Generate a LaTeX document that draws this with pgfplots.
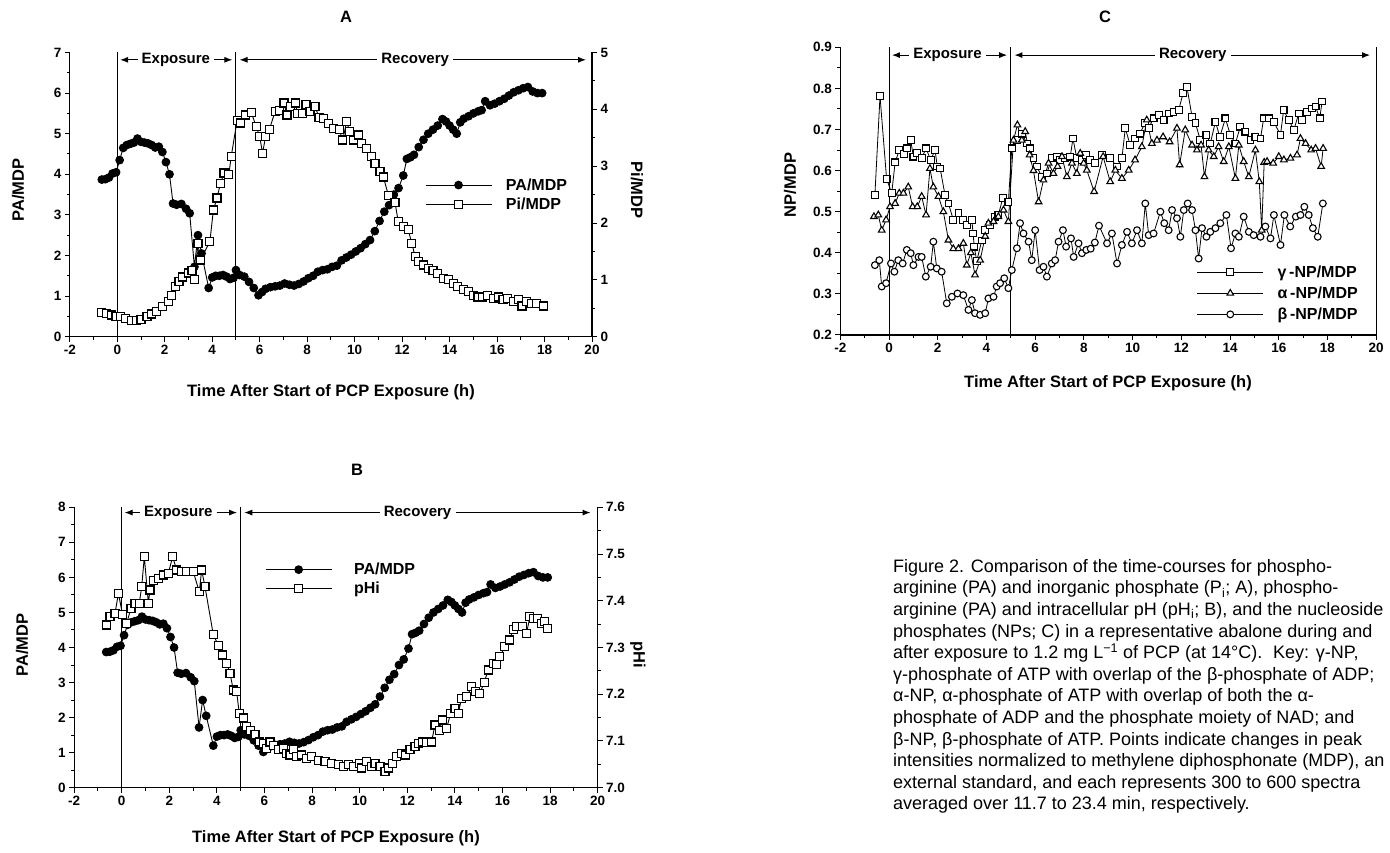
\documentclass[border=0pt]{standalone}
\usepackage{fontspec}
\setmainfont{Liberation Sans}
\usepackage{pgfplots}
\pgfplotsset{compat=1.18}
\usepackage{pgfplotstable}
\usetikzlibrary{arrows.meta}

\pgfplotstableread{
x y
-0.65 3.87
-0.50 3.88
-0.35 3.92
-0.20 4.02
-0.05 4.05
0.10 4.35
0.25 4.65
0.40 4.72
0.55 4.75
0.70 4.78
0.85 4.88
1.00 4.80
1.15 4.78
1.30 4.76
1.45 4.72
1.60 4.66
1.75 4.68
1.90 4.55
2.05 4.30
2.20 4.00
2.35 3.28
2.50 3.25
2.70 3.27
2.90 3.15
3.05 3.04
3.25 1.72
3.40 2.50
3.55 2.05
3.85 1.20
4.00 1.46
4.15 1.50
4.30 1.50
4.45 1.52
4.60 1.48
4.75 1.42
4.90 1.45
5.00 1.64
5.15 1.52
5.35 1.48
5.55 1.35
5.75 1.20
5.95 1.02
6.10 1.10
6.25 1.18
6.45 1.22
6.65 1.24
6.85 1.26
7.05 1.31
7.25 1.28
7.45 1.26
7.65 1.30
7.85 1.36
8.05 1.44
8.25 1.50
8.45 1.60
8.65 1.64
8.85 1.66
9.05 1.72
9.25 1.75
9.45 1.88
9.65 1.95
9.85 2.02
10.05 2.10
10.25 2.18
10.45 2.28
10.65 2.38
10.85 2.60
11.05 2.85
11.25 3.08
11.45 3.24
11.65 3.50
11.85 3.66
12.05 3.97
12.20 4.38
12.35 4.42
12.50 4.48
12.70 4.67
12.90 4.85
13.10 5.00
13.30 5.10
13.50 5.20
13.70 5.36
13.85 5.30
14.00 5.20
14.15 5.10
14.30 5.00
14.45 5.28
14.60 5.37
14.80 5.43
15.00 5.50
15.20 5.55
15.35 5.58
15.50 5.80
15.70 5.70
15.90 5.74
16.10 5.80
16.30 5.86
16.50 5.94
16.70 6.02
16.90 6.07
17.10 6.12
17.30 6.15
17.50 6.04
17.70 6.00
17.90 6.00
}\PAdata

\pgfplotstableread{
x y
-0.65 0.42
-0.45 0.41
-0.25 0.38
-0.05 0.35
0.15 0.36
0.35 0.32
0.60 0.28
0.80 0.29
1.00 0.30
1.25 0.36
1.45 0.40
1.65 0.44
1.90 0.53
2.15 0.62
2.30 0.73
2.45 0.88
2.60 0.97
2.75 1.05
3.00 1.12
3.15 1.17
3.25 1.00
3.40 1.64
3.50 1.35
3.90 1.67
4.05 2.23
4.20 2.44
4.35 2.70
4.50 2.88
4.70 2.85
4.80 3.17
5.05 3.81
5.20 3.76
5.40 3.90
5.65 3.94
5.85 3.70
6.00 3.52
6.12 3.23
6.25 3.52
6.40 3.64
6.65 3.96
6.85 3.98
7.02 4.11
7.15 3.90
7.30 4.05
7.50 4.11
7.60 3.92
7.80 3.93
7.95 4.08
8.12 3.96
8.33 4.05
8.50 3.86
8.70 3.84
8.90 3.75
9.10 3.66
9.35 3.64
9.50 3.46
9.66 3.78
9.80 3.61
9.95 3.46
10.15 3.55
10.30 3.40
10.50 3.31
10.70 3.17
10.86 3.05
11.07 2.90
11.21 2.81
11.42 2.49
11.70 2.36
11.84 2.02
12.05 1.94
12.26 1.88
12.41 1.64
12.55 1.41
12.70 1.32
12.90 1.26
13.10 1.20
13.30 1.17
13.50 1.11
13.75 1.03
13.95 1.00
14.15 0.94
14.35 0.88
14.60 0.83
14.80 0.79
15.00 0.73
15.20 0.70
15.40 0.70
15.60 0.73
15.85 0.67
16.05 0.70
16.25 0.65
16.45 0.67
16.70 0.62
16.90 0.66
17.05 0.54
17.25 0.62
17.45 0.59
17.65 0.59
17.95 0.54
}\Pidata

\pgfplotstableread{
x y
-0.63 7.348
-0.49 7.367
-0.28 7.373
-0.14 7.416
0.04 7.370
0.21 7.352
0.39 7.384
0.56 7.395
0.74 7.395
0.84 7.430
0.95 7.494
1.12 7.395
1.19 7.423
1.33 7.444
1.54 7.448
1.75 7.455
1.96 7.459
2.14 7.494
2.31 7.466
2.52 7.462
2.73 7.462
3.01 7.462
3.26 7.419
3.36 7.466
3.50 7.430
3.85 7.327
4.06 7.305
4.24 7.284
4.41 7.266
4.55 7.245
4.69 7.209
4.83 7.205
4.94 7.159
5.11 7.149
5.25 7.131
5.42 7.123
5.60 7.113
5.78 7.098
5.95 7.095
6.09 7.084
6.23 7.098
6.37 7.091
6.58 7.081
6.79 7.084
6.93 7.074
7.07 7.070
7.21 7.081
7.35 7.066
7.56 7.070
7.77 7.063
7.98 7.066
8.26 7.059
8.54 7.056
8.82 7.052
9.10 7.049
9.31 7.046
9.52 7.049
9.73 7.045
9.98 7.052
10.08 7.042
10.29 7.056
10.50 7.046
10.64 7.052
10.85 7.046
11.06 7.034
11.20 7.042
11.38 7.052
11.55 7.066
11.76 7.074
11.94 7.070
12.11 7.081
12.32 7.088
12.46 7.095
12.64 7.098
12.81 7.096
13.02 7.098
13.16 7.134
13.34 7.123
13.48 7.145
13.65 7.127
13.82 7.159
14.00 7.170
14.14 7.159
14.28 7.191
14.49 7.195
14.70 7.216
14.88 7.205
15.05 7.202
15.23 7.225
15.40 7.252
15.61 7.266
15.75 7.263
15.89 7.280
16.10 7.302
16.28 7.316
16.45 7.338
16.59 7.345
16.84 7.345
17.01 7.330
17.15 7.366
17.29 7.362
17.46 7.362
17.64 7.352
17.78 7.355
17.88 7.341
}\pHdata

\pgfplotstableread{
x y
-0.58 0.541
-0.37 0.781
-0.10 0.580
0.11 0.545
0.25 0.620
0.42 0.650
0.62 0.640
0.75 0.654
0.89 0.674
1.00 0.634
1.14 0.642
1.34 0.630
1.52 0.654
1.71 0.626
1.89 0.650
1.98 0.610
2.10 0.605
2.30 0.540
2.44 0.520
2.64 0.480
2.85 0.496
3.03 0.480
3.19 0.468
3.40 0.480
3.45 0.447
3.50 0.415
3.60 0.380
3.81 0.430
3.95 0.455
4.15 0.468
4.36 0.488
4.49 0.492
4.67 0.533
4.90 0.524
5.04 0.654
5.25 0.674
5.45 0.690
5.66 0.666
5.79 0.654
5.93 0.630
6.07 0.610
6.27 0.585
6.48 0.593
6.68 0.630
6.89 0.634
7.03 0.626
7.23 0.630
7.44 0.634
7.55 0.678
7.71 0.630
7.92 0.626
8.10 0.638
8.26 0.626
8.47 0.618
8.74 0.638
9.08 0.630
9.36 0.610
9.56 0.630
9.70 0.703
9.90 0.662
10.10 0.678
10.30 0.690
10.50 0.715
10.66 0.703
10.86 0.727
11.07 0.735
11.27 0.723
11.48 0.739
11.68 0.743
11.89 0.747
12.07 0.788
12.23 0.804
12.44 0.731
12.58 0.715
12.78 0.674
13.03 0.687
13.19 0.666
13.40 0.719
13.58 0.682
13.81 0.727
14.01 0.687
14.22 0.666
14.42 0.707
14.63 0.695
14.84 0.674
15.04 0.682
15.25 0.678
15.38 0.727
15.59 0.727
15.79 0.719
16.07 0.687
16.20 0.747
16.41 0.723
16.62 0.699
16.82 0.739
16.96 0.723
17.16 0.743
17.37 0.751
17.51 0.756
17.68 0.727
17.78 0.768
}\Gdata

\pgfplotstableread{
x y
-0.62 0.488
-0.44 0.492
-0.30 0.455
-0.12 0.480
0.04 0.512
0.25 0.520
0.42 0.545
0.59 0.545
0.79 0.560
0.97 0.512
1.16 0.512
1.34 0.537
1.52 0.492
1.68 0.605
1.82 0.560
2.03 0.537
2.23 0.500
2.44 0.431
2.64 0.410
2.85 0.410
3.05 0.423
3.19 0.370
3.36 0.400
3.53 0.346
3.74 0.382
3.95 0.440
4.08 0.472
4.29 0.476
4.49 0.488
4.70 0.504
4.90 0.476
5.11 0.674
5.27 0.711
5.45 0.674
5.59 0.695
5.77 0.638
5.93 0.600
6.14 0.524
6.34 0.577
6.55 0.618
6.75 0.593
6.92 0.610
7.10 0.634
7.30 0.585
7.51 0.618
7.71 0.593
7.85 0.642
7.99 0.618
8.12 0.601
8.42 0.549
8.79 0.634
9.08 0.573
9.29 0.601
9.56 0.581
9.84 0.601
10.10 0.626
10.38 0.658
10.58 0.723
10.79 0.666
11.00 0.674
11.25 0.682
11.52 0.670
11.82 0.703
11.93 0.614
12.16 0.699
12.44 0.662
12.64 0.650
12.81 0.662
12.95 0.585
13.12 0.650
13.33 0.634
13.53 0.658
13.74 0.622
13.95 0.658
14.22 0.581
14.36 0.662
14.56 0.622
14.77 0.585
15.04 0.650
15.20 0.573
15.30 0.455
15.40 0.620
15.52 0.622
15.77 0.618
16.00 0.634
16.21 0.626
16.48 0.630
16.75 0.638
16.89 0.678
17.10 0.666
17.33 0.650
17.51 0.654
17.74 0.610
17.82 0.654
}\Adata

\pgfplotstableread{
x y
-0.58 0.370
-0.40 0.382
-0.30 0.318
-0.12 0.326
0.08 0.374
0.22 0.354
0.38 0.382
0.56 0.374
0.73 0.407
0.89 0.399
1.00 0.370
1.21 0.390
1.34 0.390
1.51 0.342
1.71 0.366
1.82 0.427
1.96 0.362
2.16 0.354
2.37 0.277
2.58 0.293
2.81 0.301
3.05 0.297
3.26 0.261
3.40 0.285
3.53 0.253
3.74 0.249
3.95 0.253
4.08 0.289
4.29 0.293
4.42 0.318
4.56 0.326
4.73 0.338
4.90 0.314
5.04 0.358
5.25 0.411
5.38 0.472
5.52 0.447
5.73 0.427
5.86 0.382
6.00 0.455
6.18 0.358
6.34 0.366
6.48 0.342
6.68 0.374
6.82 0.382
6.96 0.427
7.14 0.455
7.27 0.415
7.47 0.435
7.58 0.390
7.78 0.423
7.92 0.399
8.10 0.407
8.28 0.410
8.45 0.425
8.62 0.466
8.95 0.423
9.15 0.447
9.36 0.374
9.56 0.419
9.77 0.451
9.97 0.423
10.18 0.455
10.38 0.423
10.52 0.520
10.66 0.443
10.86 0.447
11.14 0.500
11.30 0.472
11.48 0.455
11.62 0.504
11.82 0.484
11.96 0.439
12.10 0.504
12.26 0.520
12.44 0.504
12.58 0.455
12.71 0.386
12.85 0.460
13.03 0.439
13.19 0.451
13.40 0.460
13.60 0.472
13.85 0.492
14.04 0.411
14.22 0.447
14.36 0.439
14.56 0.488
14.77 0.451
14.97 0.443
15.25 0.439
15.45 0.464
15.66 0.435
15.80 0.492
16.07 0.419
16.23 0.492
16.47 0.464
16.70 0.488
16.89 0.492
17.05 0.512
17.23 0.492
17.40 0.460
17.60 0.439
17.81 0.520
}\Bdata

\tikzset{
  arr/.style={-{Latex[length=8pt,width=6pt]}, line width=1pt},
  lab/.style={font=\bfseries\fontsize{15}{15}\selectfont, inner sep=4pt},
  axlab/.style={font=\bfseries\fontsize{16.5}{16.5}\selectfont, inner sep=0pt},
}

\pgfplotsset{
  panel/.style={scale only axis, clip=false, xmin=-2, xmax=20,
    xtick={-2,0,...,20}, xticklabels={-2,0,2,4,6,8,10,12,14,16,18,20},
    minor x tick num=1, tick align=outside,
    major tick length=5pt, minor tick length=3pt,
    every tick/.style={line width=1pt, black},
    axis line style={-, line width=1.2pt},
    tick label style={font=\bfseries\fontsize{13.5}{13.5}\selectfont},
  },
  leg/.style={legend style={draw=none, fill=none, font=\bfseries\fontsize{16}{16}\selectfont,
      inner sep=0pt, row sep=2pt, /tikz/every odd column/.append style={column sep=12pt}},
    legend cell align=left,
    legend image code/.code={\draw[mark repeat=2,mark phase=2,##1] plot coordinates {(0pt,0pt) (33pt,0pt) (66pt,0pt)};}},
  fillc/.style={black, line width=0.9pt, mark=*, mark size=3.9pt, mark options={fill=black, solid}},
  opens/.style={black, line width=0.9pt, mark=square*, mark size=4pt, mark options={fill=white, line width=1.2pt, solid}},
  gsq/.style={black, line width=0.8pt, mark=square*, mark size=3.4pt, mark options={fill=white, line width=1.1pt, solid}},
  atr/.style={black, line width=0.8pt, mark=triangle*, mark size=3.8pt, mark options={fill=white, line width=1.1pt, solid}},
  bci/.style={black, line width=0.8pt, mark=*, mark size=3.4pt, mark options={fill=white, line width=1.1pt, solid}},
}

\begin{document}
\begin{tikzpicture}
\useasboundingbox (0,0) rectangle (1390pt,852pt);

% ---------------- Panel A ----------------
\begin{axis}[panel, at={(69.8pt,515.3pt)}, anchor=south west, width=522.2pt, height=284.2pt,
  ymin=0, ymax=7, ytick={0,1,2,3,4,5,6,7}, yticklabels={0,1,2,3,4,5,6,7}, minor y tick num=1,
  axis x line*=bottom, axis y line*=left]
\addplot[fillc] table {\PAdata};
\draw[line width=1pt] (axis cs:0,0) -- (axis cs:0,7);
\draw[line width=1pt] (axis cs:5,0) -- (axis cs:5,7);
\node[lab] (EA) at (axis cs:2.47,6.82) {Exposure};
\draw[arr] (EA.west) -- (axis cs:0.12,6.82);
\draw[arr] (EA.east) -- (axis cs:4.85,6.82);
\node[lab] (RA) at (axis cs:12.55,6.82) {Recovery};
\draw[arr] (RA.west) -- (axis cs:5.15,6.82);
\draw[arr] (RA.east) -- (axis cs:19.75,6.82);
\end{axis}
\begin{axis}[panel, leg, at={(69.8pt,515.3pt)}, anchor=south west, width=522.2pt, height=284.2pt,
  ymin=0, ymax=5, ytick={0,1,2,3,4,5}, yticklabels={0,1,2,3,4,5}, minor y tick num=1,
  axis x line=none, axis y line*=right,
  legend style={at={(0.680,0.500)}, anchor=west}]
\addlegendimage{fillc}
\addlegendentry{PA/MDP}
\addplot[opens] table {\Pidata};
\addlegendentry{Pi/MDP}
\end{axis}

% ---------------- Panel B ----------------
\begin{axis}[panel, at={(74.1pt,64.3pt)}, anchor=south west, width=523.6pt, height=280.4pt,
  ymin=0, ymax=8, ytick={0,1,2,3,4,5,6,7,8}, yticklabels={0,1,2,3,4,5,6,7,8}, minor y tick num=1,
  axis x line*=bottom, axis y line*=left]
\addplot[fillc] table {\PAdata};
\draw[line width=1pt] (axis cs:0,0) -- (axis cs:0,8);
\draw[line width=1pt] (axis cs:5,0) -- (axis cs:5,8);
\node[lab] (EB) at (axis cs:2.38,7.85) {Exposure};
\draw[arr] (EB.west) -- (axis cs:0.12,7.85);
\draw[arr] (EB.east) -- (axis cs:4.85,7.85);
\node[lab] (RB) at (axis cs:12.43,7.85) {Recovery};
\draw[arr] (RB.west) -- (axis cs:5.15,7.85);
\draw[arr] (RB.east) -- (axis cs:19.7,7.85);
\end{axis}
\begin{axis}[panel, leg, at={(74.1pt,64.3pt)}, anchor=south west, width=523.6pt, height=280.4pt,
  ymin=7.0, ymax=7.6, ytick={7.0,7.1,7.2,7.3,7.4,7.5,7.6}, yticklabels={7.0,7.1,7.2,7.3,7.4,7.5,7.6}, minor y tick num=1,
  axis x line=none, axis y line*=right,
  legend style={at={(0.3646,0.7436)}, anchor=west, /tikz/every odd column/.append style={column sep=20pt}}]
\addlegendimage{fillc}
\addlegendentry{PA/MDP}
\addplot[opens] table {\pHdata};
\addlegendentry{pHi}
\end{axis}

% ---------------- Panel C ----------------
\begin{axis}[panel, leg, at={(840.3pt,517pt)}, anchor=south west, width=535.9pt, height=287.7pt,
  ymin=0.2, ymax=0.9, ytick={0.2,0.3,0.4,0.5,0.6,0.7,0.8,0.9}, yticklabels={0.2,0.3,0.4,0.5,0.6,0.7,0.8,0.9}, minor y tick num=1,
  axis x line*=bottom, axis y line*=left,
  legend style={at={(0.665,0.145)}, anchor=west, row sep=4pt}]
\addplot[gsq] table {\Gdata};
\addlegendentry{γ\,-NP/MDP}
\addplot[atr] table {\Adata};
\addlegendentry{α\,-NP/MDP}
\addplot[bci] table {\Bdata};
\addlegendentry{β\,-NP/MDP}
\draw[line width=1.2pt] (axis cs:20,0.2) -- (axis cs:20,0.9);
\draw[line width=1pt] (axis cs:0,0.2) -- (axis cs:0,0.9);
\draw[line width=1pt] (axis cs:5,0.2) -- (axis cs:5,0.9);
\node[lab] (EC) at (axis cs:2.40,0.881) {Exposure};
\draw[arr] (EC.west) -- (axis cs:0.12,0.881);
\draw[arr] (EC.east) -- (axis cs:4.85,0.881);
\node[lab] (RC) at (axis cs:12.47,0.881) {Recovery};
\draw[arr] (RC.west) -- (axis cs:5.15,0.881);
\draw[arr] (RC.east) -- (axis cs:19.75,0.881);
\end{axis}

% ---------------- Titles and labels ----------------
\node[axlab] at (346pt,835pt) {A};
\node[axlab] at (357pt,382pt) {B};
\node[axlab] at (1105pt,835pt) {C};
\node[axlab] at (331pt,460pt) {Time After Start of PCP Exposure (h)};
\node[axlab] at (336pt,14pt) {Time After Start of PCP Exposure (h)};
\node[axlab] at (1108pt,469pt) {Time After Start of PCP Exposure (h)};
\node[axlab, rotate=90] at (18pt,662pt) {PA/MDP};
\node[axlab, rotate=-90] at (637pt,662pt) {Pi/MDP};
\node[axlab, rotate=90] at (22pt,207pt) {PA/MDP};
\node[axlab, rotate=-90] at (638pt,197pt) {pHi};
\node[axlab, rotate=90] at (790pt,667pt) {NP/MDP};

% ---------------- Caption ----------------
\node[anchor=north west, align=left, inner sep=0pt, font=\fontsize{18}{21.6}\selectfont] at (893pt,293pt) {%
Figure 2. Comparison of the time-courses for phospho-\\
arginine (PA) and inorganic phosphate (P\textsubscript{i}; A), phospho-\\
arginine (PA) and intracellular pH (pH\textsubscript{i}; B), and the nucleoside\\
phosphates (NPs; C) in a representative abalone during and\\
after exposure to 1.2 mg L\textsuperscript{−1} of PCP (at 14°C).\hspace{0.6em}Key: γ-NP,\\
γ-phosphate of ATP with overlap of the β-phosphate of ADP;\\
α-NP, α-phosphate of ATP with overlap of both the α-\\
phosphate of ADP and the phosphate moiety of NAD; and\\
β-NP, β-phosphate of ATP. Points indicate changes in peak\\
intensities normalized to methylene diphosphonate (MDP), an\\
external standard, and each represents 300 to 600 spectra\\
averaged over 11.7 to 23.4 min, respectively.};
\end{tikzpicture}
\end{document}
